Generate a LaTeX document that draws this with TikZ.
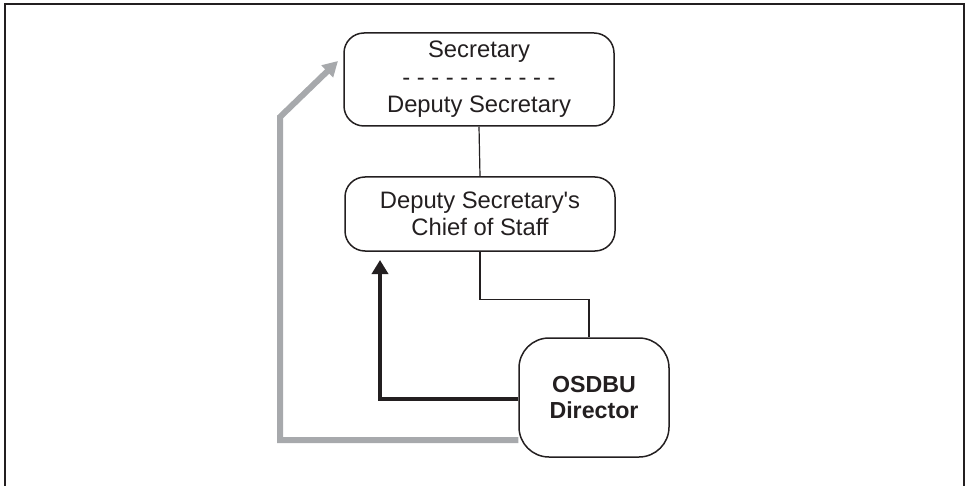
\documentclass[tikz,border=0pt]{standalone}
\usepackage{fontspec}
\setmainfont{Liberation Sans}
\newfontfamily\lsans{Liberation Sans}
\usetikzlibrary{arrows.meta}
\definecolor{ink}{HTML}{231F20}
\definecolor{greyline}{HTML}{A7A9AC}
\tikzset{
  box/.style={draw=ink, line width=0.75pt, rounded corners=10pt, align=center, inner sep=0pt,
    font=\lsans\fontsize{11.9}{13.75}\selectfont, text=ink},
  thinline/.style={draw=ink, line width=0.6pt},
  blackarrow/.style={draw=ink, line width=2pt, -{Triangle[width=8pt,length=7pt]}},
  greyarrow/.style={draw=greyline, line width=3pt, -{Triangle[width=8pt,length=7.5pt]}},
  framestyle/.style={draw=ink, line width=1.2pt}
}
\begin{document}
\begin{tikzpicture}[x=0.5pt,y=-0.5pt]
\useasboundingbox (0,0) rectangle (967,486);
\draw[framestyle] (5,490) -- (5,4) -- (964,4) -- (964,490);
\node[box, minimum width=135pt, minimum height=46.5pt] (sec) at (479,79.5)
  {Secretary\\- - - - - - - - - - -\\Deputy Secretary};
\node[box, minimum width=135pt, minimum height=37pt] (cos) at (480,214)
  {Deputy Secretary's\\Chief of Staff};
\node[box, rounded corners=15pt, minimum width=75pt, minimum height=59.5pt,
  font=\lsans\fontsize{11.6}{13}\selectfont\bfseries] (osdbu) at (594,397.5)
  {OSDBU\\Director};
\draw[thinline] (sec.south) -- (cos.north);
\draw[thinline] (cos.south) -- ++(0,48) -| ([xshift=-2.5pt]osdbu.north);
\coordinate (bk) at (380,260);
\draw[blackarrow] ([yshift=-0.75pt]osdbu.west) -| (bk);
\coordinate (g1) at (280,117);
\coordinate (g2) at (338,61);
\draw[greyarrow] ([yshift=-21.25pt]osdbu.west) -| (g1) -- (g2);
\end{tikzpicture}
\end{document}
